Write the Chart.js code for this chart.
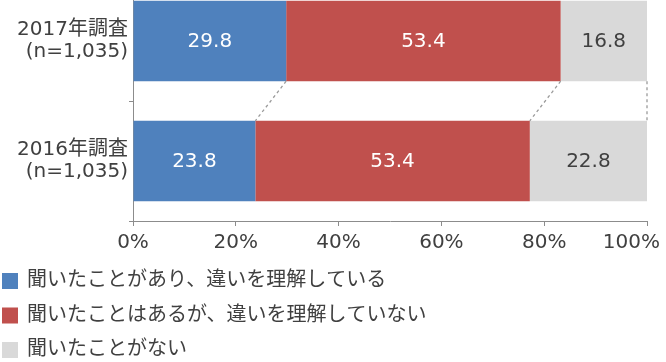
<!DOCTYPE html>
<html>
<head>
<meta charset="utf-8">
<script src="https://cdn.jsdelivr.net/npm/chart.js@4/dist/chart.umd.min.js"></script>
<style>
html,body{margin:0;padding:0;background:#fff;}
#wrap{width:666px;height:362px;position:relative;}
</style>
</head>
<body>
<div id="wrap"><canvas id="c" width="666" height="362"></canvas></div>
<script>
const categories = [['2017年調査', '(n=1,035)'], ['2016年調査', '(n=1,035)']];
const seriesNames = ['聞いたことがあり、違いを理解している', '聞いたことはあるが、違いを理解していない', '聞いたことがない'];
const understood = [29.8, 23.8];
const notUnderstood = [53.4, 53.4];
const neverHeard = [16.8, 22.8];
const xTicks = [0, 20, 40, 60, 80, 100];

const colors = ['#4F81BD', '#C0504D', '#D9D9D9'];
const labelColors = ['#ffffff', '#ffffff', '#404040'];
const textColor = '#404040';
const axisColor = '#8c8c8c';
const FONT = '"DejaVu Sans", "Noto Sans CJK JP", sans-serif';
const TOP_OFF = -19;

// extend the plot area above the canvas edge (the reference is cropped at the top)
const extendTop = {
  id: 'extendTop',
  afterLayout(chart) {
    const y = chart.scales.y;
    chart.chartArea.top = TOP_OFF;
    chart.chartArea.height = chart.chartArea.bottom - TOP_OFF;
    y.top = TOP_OFF;
    y.height = y.bottom - TOP_OFF;
    y.configure();
  }
};

const connectors = {
  id: 'connectors',
  afterDatasetsDraw(chart) {
    const ctx = chart.ctx;
    ctx.save();
    ctx.strokeStyle = '#9a9a9a';
    ctx.lineWidth = 1.3;
    ctx.setLineDash([3, 3]);
    chart.data.datasets.forEach((ds, i) => {
      const meta = chart.getDatasetMeta(i);
      const top = meta.data[0], bot = meta.data[1];
      if (!top || !bot) return;
      ctx.beginPath();
      ctx.moveTo(top.x, top.y + top.height / 2);
      ctx.lineTo(bot.x, bot.y - bot.height / 2);
      ctx.stroke();
    });
    ctx.restore();
  }
};

const valueLabels = {
  id: 'valueLabels',
  afterDatasetsDraw(chart) {
    const ctx = chart.ctx;
    ctx.save();
    ctx.font = '20px ' + FONT;
    ctx.textAlign = 'center';
    ctx.textBaseline = 'middle';
    chart.data.datasets.forEach((ds, i) => {
      const meta = chart.getDatasetMeta(i);
      meta.data.forEach((el, j) => {
        ctx.fillStyle = labelColors[i];
        ctx.fillText(ds.data[j].toFixed(1), (el.x + el.base) / 2, el.y + 1);
      });
    });
    ctx.restore();
  }
};

const xLabels = {
  id: 'xLabels',
  afterDraw(chart) {
    const ctx = chart.ctx;
    const sc = chart.scales.x;
    ctx.save();
    ctx.font = '20px ' + FONT;
    ctx.fillStyle = textColor;
    ctx.textAlign = 'center';
    ctx.textBaseline = 'middle';
    xTicks.forEach(v => {
      const t = v + '%';
      const w = ctx.measureText(t).width;
      let px = sc.getPixelForValue(v);
      px = Math.min(px, chart.width - 6 - w / 2);
      ctx.fillText(t, px, sc.top + 22);
    });
    ctx.restore();
  }
};

const customLegend = {
  id: 'customLegend',
  afterDraw(chart) {
    const ctx = chart.ctx;
    ctx.save();
    ctx.font = '20px ' + FONT;
    ctx.textBaseline = 'middle';
    ctx.textAlign = 'left';
    chart.data.datasets.forEach((ds, i) => {
      const cy = 281 + i * 34.5;
      ctx.fillStyle = ds.backgroundColor;
      ctx.fillRect(2, cy - 8, 16, 16);
      ctx.fillStyle = textColor;
      ctx.fillText(ds.label, 27, cy);
    });
    ctx.restore();
  }
};

new Chart(document.getElementById('c'), {
  type: 'bar',
  data: {
    labels: categories,
    datasets: [
      { label: seriesNames[0], data: understood, backgroundColor: colors[0] },
      { label: seriesNames[1], data: notUnderstood, backgroundColor: colors[1] },
      { label: seriesNames[2], data: neverHeard, backgroundColor: colors[2] }
    ]
  },
  options: {
    indexAxis: 'y',
    responsive: false,
    animation: false,
    devicePixelRatio: 1,
    layout: { padding: { top: 0, right: 19, bottom: 101, left: 0 } },
    datasets: { bar: { categoryPercentage: 1, barPercentage: 0.67 } },
    plugins: { legend: { display: false }, tooltip: { enabled: false } },
    scales: {
      x: {
        stacked: true, min: 0, max: 100,
        afterBuildTicks: s => { s.ticks = xTicks.map(v => ({ value: v })); },
        ticks: { display: false },
        grid: { drawOnChartArea: false, drawTicks: true, tickLength: 5, color: axisColor },
        border: { display: true, color: axisColor, width: 1 },
        afterFit: s => { s.height = 40; s.paddingLeft = 0; s.paddingRight = 0; }
      },
      y: {
        stacked: true,
        ticks: { color: textColor, font: { family: FONT, size: 20, lineHeight: 1.1 }, padding: 1 },
        grid: { drawOnChartArea: false, drawTicks: true, tickLength: 4, color: axisColor, offset: true },
        border: { display: true, color: axisColor, width: 1 },
        afterFit: s => { s.width = 133; s.paddingTop = 0; s.paddingBottom = 0; }
      }
    }
  },
  plugins: [extendTop, connectors, valueLabels, xLabels, customLegend]
});
</script>
</body>
</html>
